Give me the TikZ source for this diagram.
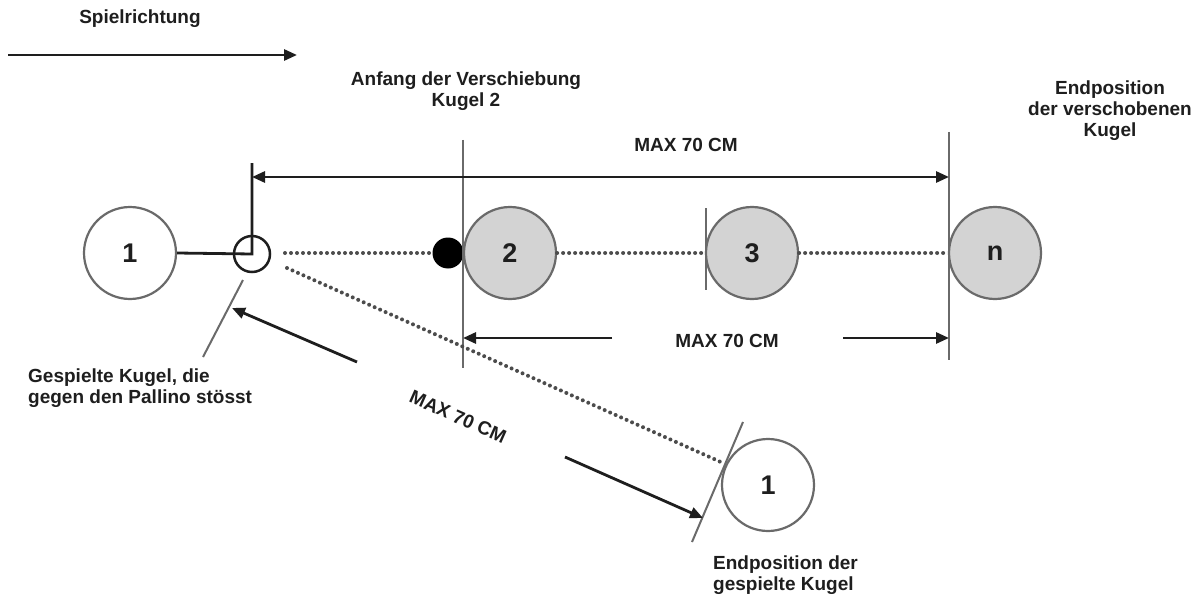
\documentclass[tikz,border=0pt]{standalone}
\usepackage{fontspec}
\setmainfont{Liberation Sans}
\usetikzlibrary{arrows.meta}
\definecolor{kgrau}{HTML}{D3D3D3}
\definecolor{rand}{HTML}{6A6A6A}
\definecolor{tinte}{HTML}{1E1E1E}
\tikzset{kugel/.style={draw=rand,circle,line width=2.2pt,minimum size=92pt,inner sep=0pt,text=tinte,font=\fontsize{27}{29}\bfseries\selectfont}}
\tikzset{gkugel/.style={kugel,fill=kgrau}}
\tikzset{pallino/.style={draw=tinte,circle,line width=2.5pt,minimum size=36pt,inner sep=0pt}}
\tikzset{stosskugel/.style={circle,fill=black,minimum size=31pt,inner sep=0pt}}
\tikzset{spur/.style={draw=black!70,line width=4pt,line cap=round,dash pattern=on 0pt off 6pt}}
\tikzset{mass/.style={draw=tinte,line width=2.8pt}}
\tikzset{pfeil/.style={mass,-{Triangle[length=13pt,width=11pt]}}}
\tikzset{grenze/.style={draw=rand,line width=2pt}}
\tikzset{txt/.style={font=\fontsize{19}{21}\bfseries\selectfont,text=tinte,inner sep=0pt}}

\begin{document}
\begin{tikzpicture}[x=1pt,y=-1pt]
    \fill[white] (0,0) rectangle (1199,599);
    \useasboundingbox (0,0) rectangle (1199,599);

    % Spielrichtung
    \node[txt] (richtung) at (140,19) {Spielrichtung};
    \coordinate (ra) at (8,55);
    \coordinate (rb) at (297,55);
    \draw[pfeil] (ra) -- (rb);

    % Kugeln
    \node[kugel] (k1) at (130,253) {1};
    \node[pallino] (pal) at (252,254) {};
    \node[stosskugel] (stoss) at (448,253) {};
    \foreach \n/\x/\t in {k2/510/2,k3/752/3,kn/995/n}
      \node[gkugel] (\n) at (\x,253) {\t};
    \node[kugel] (k1e) at (768,485) {1};

    % Grenzlinien
    \draw[grenze] (463,140) -- (463,368);
    \draw[grenze] (949,132) -- (949,360);
    \draw[grenze] (706,208) -- (706,290);
    \draw[grenze] (243,280) -- (203,357);
    \draw[grenze] (743,422) -- (692,542);

    % Spuren
    \coordinate (sa) at (285,253);
    \coordinate (da) at (287,268);
    \coordinate (de) at (723,463);
    \draw[spur] (sa) -- (stoss.west);
    \draw[spur] (k2.east) -- (k3.west);
    \draw[spur] (k3.east) -- (kn.west);
    \draw[spur] (da) -- (de);

    % Masse oben
    \coordinate (po) at (252,163);
    \coordinate (ml) at (252,177);
    \coordinate (mr) at (949,177);
    \draw[mass] (k1.east) -- (pal.center) -- (po);
    \draw[mass,{Triangle[length=13pt,width=11pt]}-{Triangle[length=13pt,width=11pt]}] (ml) -- (mr);
    \node[txt] (max1) at (686,145) {MAX 70 CM};

    % Masse unten
    \node[txt] (max2) at (727,341) {MAX 70 CM};
    \coordinate (ul) at (463,338);
    \coordinate (ur) at (949,338);
    \draw[pfeil] (612,338) -- (ul);
    \draw[pfeil] (843,338) -- (ur);

    % Masse schraeg
    \node[txt,rotate=-24] (max3) at (458,417) {MAX 70 CM};
    \draw[pfeil] (357,362) -- (232,308);
    \draw[pfeil] (565,457) -- (703,518);

    % Beschriftungen
    \node[txt,align=center] (anfang) at (466,91) {Anfang der Verschiebung\\Kugel 2};
    \node[txt,align=center] (endv) at (1110,111) {Endposition\\der verschobenen\\Kugel};
    \node[txt,align=left,anchor=west] (gesp) at (28,388) {Gespielte Kugel, die\\gegen den Pallino stösst};
    \node[txt,align=left,anchor=west] (endg) at (713,575) {Endposition der\\gespielte Kugel};
\end{tikzpicture}
\end{document}
